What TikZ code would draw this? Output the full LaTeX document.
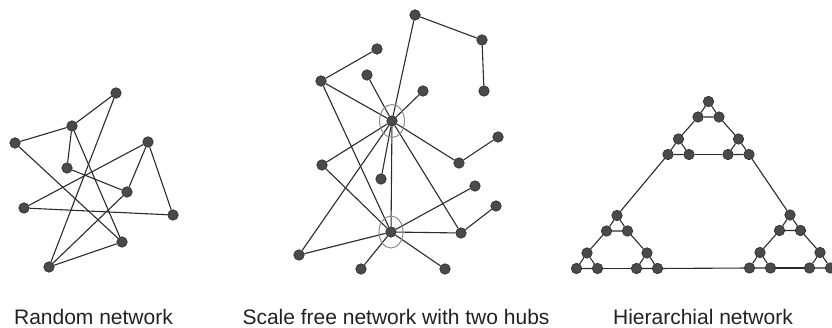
\documentclass[tikz,border=0pt]{standalone}
\usepackage{fontspec}
\setmainfont{Liberation Sans}
\definecolor{nodefill}{HTML}{4A4A4A}
\definecolor{nodeedge}{HTML}{2A2A2A}
\definecolor{edgecol}{HTML}{2B2B2B}
\definecolor{ringcol}{HTML}{8C8C8C}
\definecolor{textcol}{HTML}{222222}
\newcommand{\hclust}[3]{%
  \node[dot] (#1t) at (#2,#3) {};
  \node[dot] (#1a) at ({#2-10.5},{#3+15.5}) {};
  \node[dot] (#1b) at ({#2+10.5},{#3+15.5}) {};
  \node[dot] (#1c) at ({#2-30},{#3+37.5}) {};
  \node[dot] (#1d) at ({#2+30},{#3+37.5}) {};
  \node[dot] (#1e) at ({#2-40.5},{#3+53}) {};
  \node[dot] (#1f) at ({#2-19.5},{#3+53}) {};
  \node[dot] (#1g) at ({#2+19.5},{#3+53}) {};
  \node[dot] (#1h) at ({#2+40.5},{#3+53}) {};
  \draw[edge] (#1t) -- (#1a) -- (#1b) -- (#1t);
  \draw[edge] (#1c) -- (#1e) -- (#1f) -- (#1c);
  \draw[edge] (#1d) -- (#1g) -- (#1h) -- (#1d);
  \draw[edge] (#1a) -- (#1c);
  \draw[edge] (#1b) -- (#1d);
  \draw[edge] (#1f) -- (#1g);
}
\begin{document}
\begin{tikzpicture}[x=1pt,y=-1pt,
  dot/.style={circle,fill=nodefill,draw=nodeedge,line width=0.6pt,minimum size=10.5pt,inner sep=0pt},
  edge/.style={draw=edgecol,line width=1.1pt},
  hubring/.style={draw=ringcol,line width=1pt},
  lab/.style={text=textcol,font=\fontsize{21}{25}\selectfont,anchor=base,inner sep=0pt}]
\useasboundingbox (0,0) rectangle (832,328);
% ---------- Random network ----------
\node[dot] (rA) at (116,93) {};
\node[dot] (rB) at (72,126) {};
\node[dot] (rC) at (15,143) {};
\node[dot] (rD) at (148,142) {};
\node[dot] (rE) at (67,168) {};
\node[dot] (rF) at (127,192) {};
\node[dot] (rG) at (24,208) {};
\node[dot] (rH) at (173,215) {};
\node[dot] (rI) at (122,242) {};
\node[dot] (rJ) at (49,267) {};
\draw[edge] (rA) -- (rB);
\draw[edge] (rA) -- (rJ);
\draw[edge] (rB) -- (rC);
\draw[edge] (rB) -- (rE);
\draw[edge] (rB) -- (rI);
\draw[edge] (rC) -- (rI);
\draw[edge] (rD) -- (rG);
\draw[edge] (rD) -- (rF);
\draw[edge] (rD) -- (rH);
\draw[edge] (rE) -- (rF);
\draw[edge] (rG) -- (rH);
\draw[edge] (rF) -- (rJ);
\draw[edge] (rI) -- (rJ);
% ---------- Scale free network ----------
\node[dot] (s1) at (415,15) {};
\node[dot] (s2) at (482,40) {};
\node[dot] (s3) at (484,91) {};
\node[dot] (s4) at (377,49) {};
\node[dot] (s5) at (321,81) {};
\node[dot] (s6) at (367,75) {};
\node[dot] (s7) at (423,91) {};
\node[dot] (h1) at (392,121) {};
\node[dot] (s8) at (498,137) {};
\node[dot] (s9) at (322,165) {};
\node[dot] (s10) at (459,163) {};
\node[dot] (s11) at (381,179) {};
\node[dot] (s12) at (475,186) {};
\node[dot] (s13) at (496,206) {};
\node[dot] (h2) at (391,232) {};
\node[dot] (s14) at (461,233) {};
\node[dot] (s15) at (299,255) {};
\node[dot] (s16) at (361,269) {};
\node[dot] (s17) at (445,269) {};
\draw[edge] (s1) -- (s2);
\draw[edge] (s2) -- (s3);
\draw[edge] (s1) -- (h1);
\draw[edge] (s4) -- (s5);
\draw[edge] (s5) -- (h1);
\draw[edge] (s5) -- (h2);
\draw[edge] (s6) -- (h1);
\draw[edge] (s7) -- (h1);
\draw[edge] (h1) -- (s9);
\draw[edge] (h1) -- (s10);
\draw[edge] (h1) -- (s11);
\draw[edge] (h1) -- (h2);
\draw[edge] (h1) -- (s15);
\draw[edge] (h1) -- (s14);
\draw[edge] (s10) -- (s8);
\draw[edge] (s9) -- (h2);
\draw[edge] (s12) -- (h2);
\draw[edge] (s13) -- (s14);
\draw[edge] (h2) -- (s14);
\draw[edge] (h2) -- (s15);
\draw[edge] (h2) -- (s16);
\draw[edge] (h2) -- (s17);
\draw[hubring] (h1.center) ellipse [x radius=12.5pt, y radius=16.5pt];
\draw[hubring] (h2.center) ellipse [x radius=12pt, y radius=16pt];
% ---------- Hierarchical network ----------
\hclust{T}{708.5}{101.5}
\hclust{L}{617}{215.5}
\hclust{R}{790}{215}
\draw[edge] (Te) -- (Lt);
\draw[edge] (Th) -- (Rt);
\draw[edge] (Lh) -- (Re);
% ---------- Labels ----------
\node[lab] (l1) at (93.5,324.5) {Random network};
\node[lab] (l2) at (396,324.5) {Scale free network with two hubs};
\node[lab] (l3) at (703,324.5) {Hierarchial network};
\end{tikzpicture}
\end{document}
